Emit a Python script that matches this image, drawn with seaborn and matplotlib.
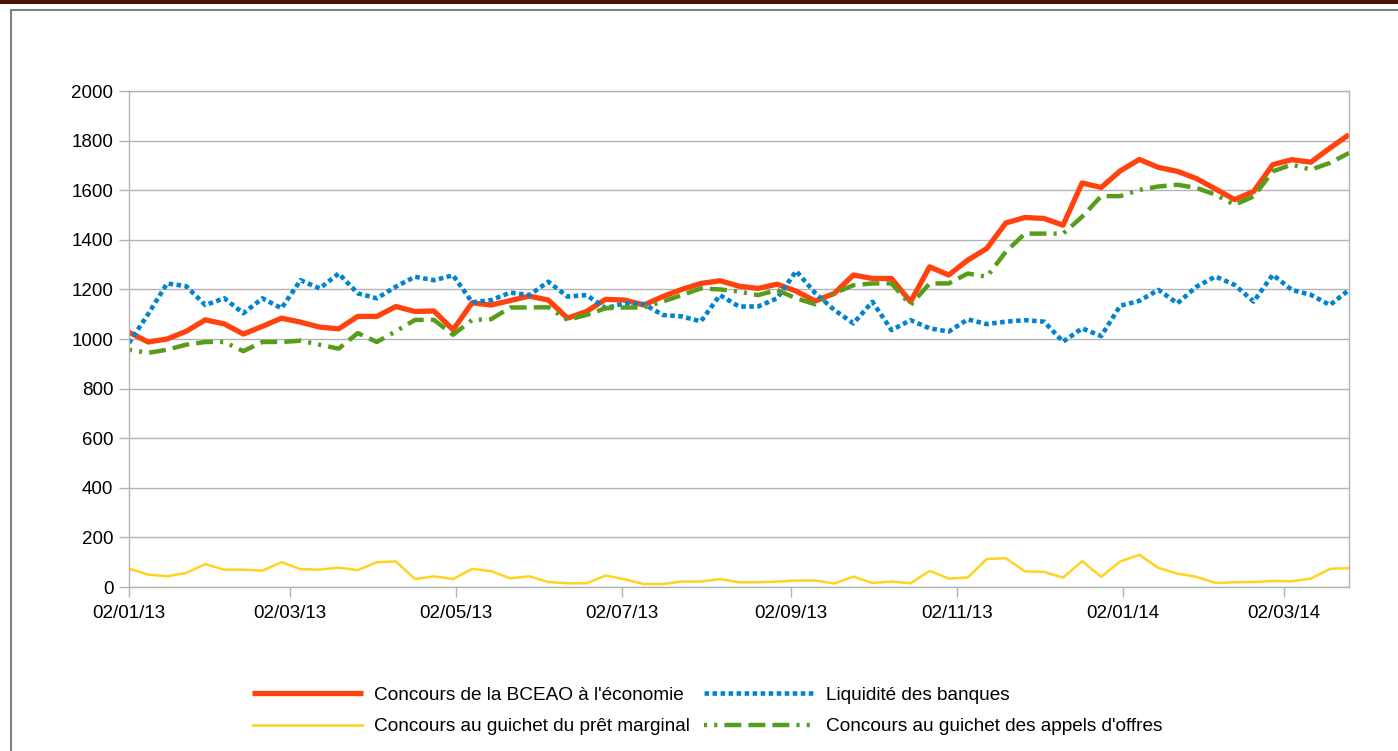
import matplotlib
matplotlib.use('Agg')
import matplotlib.pyplot as plt
import matplotlib.dates as mdates
from matplotlib.lines import Line2D
from matplotlib.patches import Rectangle
import pandas as pd
import seaborn as sns

# weekly observations, 02/01/2013 -> end of March 2014
dates = pd.date_range('2013-01-02', periods=65, freq='7D')

concours_bceao = [1027, 988, 1000, 1031, 1077, 1061, 1020, 1051, 1084, 1068,
                  1048, 1041, 1091, 1091, 1131, 1111, 1113, 1037, 1146, 1137,
                  1155, 1173, 1157, 1084, 1111, 1160, 1157, 1137, 1171, 1200,
                  1224, 1235, 1213, 1204, 1221, 1193, 1153, 1184, 1258, 1244,
                  1244, 1150, 1291, 1258, 1318, 1365, 1468, 1490, 1486, 1459,
                  1629, 1611, 1678, 1724, 1692, 1676, 1647, 1605, 1562, 1595,
                  1703, 1723, 1713, 1770, 1824]

liquidite = [984, 1100, 1224, 1213, 1137, 1164, 1104, 1164, 1124, 1237,
             1204, 1264, 1184, 1164, 1211, 1251, 1237, 1257, 1148, 1157,
             1187, 1177, 1231, 1171, 1177, 1124, 1144, 1141, 1097, 1091,
             1071, 1177, 1131, 1131, 1164, 1274, 1185, 1117, 1063, 1150,
             1036, 1076, 1043, 1030, 1079, 1060, 1070, 1076, 1070, 989,
             1043, 1012, 1134, 1154, 1198, 1144, 1211, 1252, 1218, 1151,
             1259, 1198, 1178, 1137, 1198]

pret_marginal = [74, 50, 43, 57, 92, 70, 70, 66, 100, 72,
                 70, 78, 68, 100, 103, 32, 43, 32, 73, 64,
                 35, 43, 20, 15, 15, 46, 31, 12, 12, 22,
                 22, 32, 19, 19, 22, 26, 26, 14, 42, 16,
                 22, 15, 65, 34, 38, 113, 116, 63, 61, 38,
                 104, 41, 103, 130, 77, 54, 41, 16, 19, 20,
                 24, 23, 34, 73, 76]

appels_offres = [957, 944, 957, 977, 988, 988, 951, 988, 988, 993,
                 977, 961, 1024, 988, 1031, 1077, 1077, 1017, 1077, 1080,
                 1127, 1127, 1128, 1077, 1097, 1124, 1127, 1127, 1151, 1177,
                 1204, 1200, 1191, 1177, 1197, 1164, 1140, 1184, 1217, 1224,
                 1224, 1137, 1224, 1224, 1264, 1251, 1352, 1425, 1425, 1425,
                 1493, 1576, 1576, 1601, 1615, 1622, 1609, 1582, 1541, 1575,
                 1676, 1703, 1683, 1710, 1750]

labels = ["Concours de la BCEAO à l'économie", "Liquidité des banques",
          "Concours au guichet du prêt marginal", "Concours au guichet des appels d'offres"]

sns.set_style('white')
plt.rcParams['font.family'] = ['Liberation Sans', 'DejaVu Sans']
plt.rcParams['text.color'] = 'black'

grid_col = '#b3b3b3'
fig = plt.figure(figsize=(13.98, 7.51), dpi=100)
ax = fig.add_axes([129 / 1398, 1 - 587 / 751, 1220 / 1398, 496 / 751])

red_style = dict(color='#ff420e', linewidth=3.8, solid_capstyle='butt')
blue_style = dict(color='#0084d1', linewidth=3.3, linestyle=(0, (1.0, 0.75)), dash_capstyle='butt')
yellow_style = dict(color='#ffd320', linewidth=1.8)
# three dashes then two dots, starting on the dots
green_style = dict(color='#579d1c', linewidth=3.2,
                   linestyle=(16.2, (3.8, 1.6, 3.8, 1.6, 3.8, 1.6, 0.7, 1.6, 0.7, 1.6)),
                   dash_capstyle='butt')

sns.lineplot(x=dates, y=concours_bceao, ax=ax, **red_style)
sns.lineplot(x=dates, y=liquidite, ax=ax, **blue_style)
sns.lineplot(x=dates, y=pret_marginal, ax=ax, **yellow_style)
sns.lineplot(x=dates, y=appels_offres, ax=ax, **green_style)

ax.set_xlim(dates[0], dates[-1])
ax.set_ylim(0, 2000)
ax.set_yticks(range(0, 2001, 200))
ax.xaxis.set_major_locator(mdates.MonthLocator(bymonth=range(1, 13, 2), bymonthday=2))
ax.xaxis.set_major_formatter(mdates.DateFormatter('%d/%m/%y'))
ax.set_xlabel('')
ax.set_ylabel('')

ax.grid(axis='y', color=grid_col, linewidth=1.0)
ax.grid(axis='x', visible=False)
ax.set_axisbelow(True)
for sp in ax.spines.values():
    sp.set_color(grid_col)
    sp.set_linewidth(1.0)
ax.tick_params(axis='both', which='major', direction='out', length=7.2, width=1.0,
               color=grid_col, labelsize=13.5, labelcolor='black')
ax.tick_params(axis='y', pad=4)
ax.tick_params(axis='x', pad=6)
ax.tick_params(left=True, bottom=True)

handles = [Line2D([], [], **red_style), Line2D([], [], **yellow_style),
           Line2D([], [], **blue_style), Line2D([], [], **green_style)]
leg_labels = [labels[0], labels[2], labels[1], labels[3]]
fig.legend(handles, leg_labels, ncol=2, loc='center', bbox_to_anchor=(0.506, 1 - 711 / 751),
           frameon=False, fontsize=13.7, labelcolor='black', handlelength=5.8, handletextpad=0.6,
           columnspacing=0.75, labelspacing=0.75)

# page decoration: dark band on top and gray frame
fig.patches.append(Rectangle((0, 1 - 4 / 751), 1, 4 / 751, transform=fig.transFigure,
                             facecolor='#4a1400', edgecolor='none'))
fig.lines.append(Line2D([10.5 / 1398, 1], [1 - 10 / 751, 1 - 10 / 751], transform=fig.transFigure,
                        color='#808080', linewidth=1.5))
fig.lines.append(Line2D([10.5 / 1398, 10.5 / 1398], [0, 1 - 10 / 751], transform=fig.transFigure,
                        color='#808080', linewidth=1.5))

fig.savefig('out.png', dpi=100)
